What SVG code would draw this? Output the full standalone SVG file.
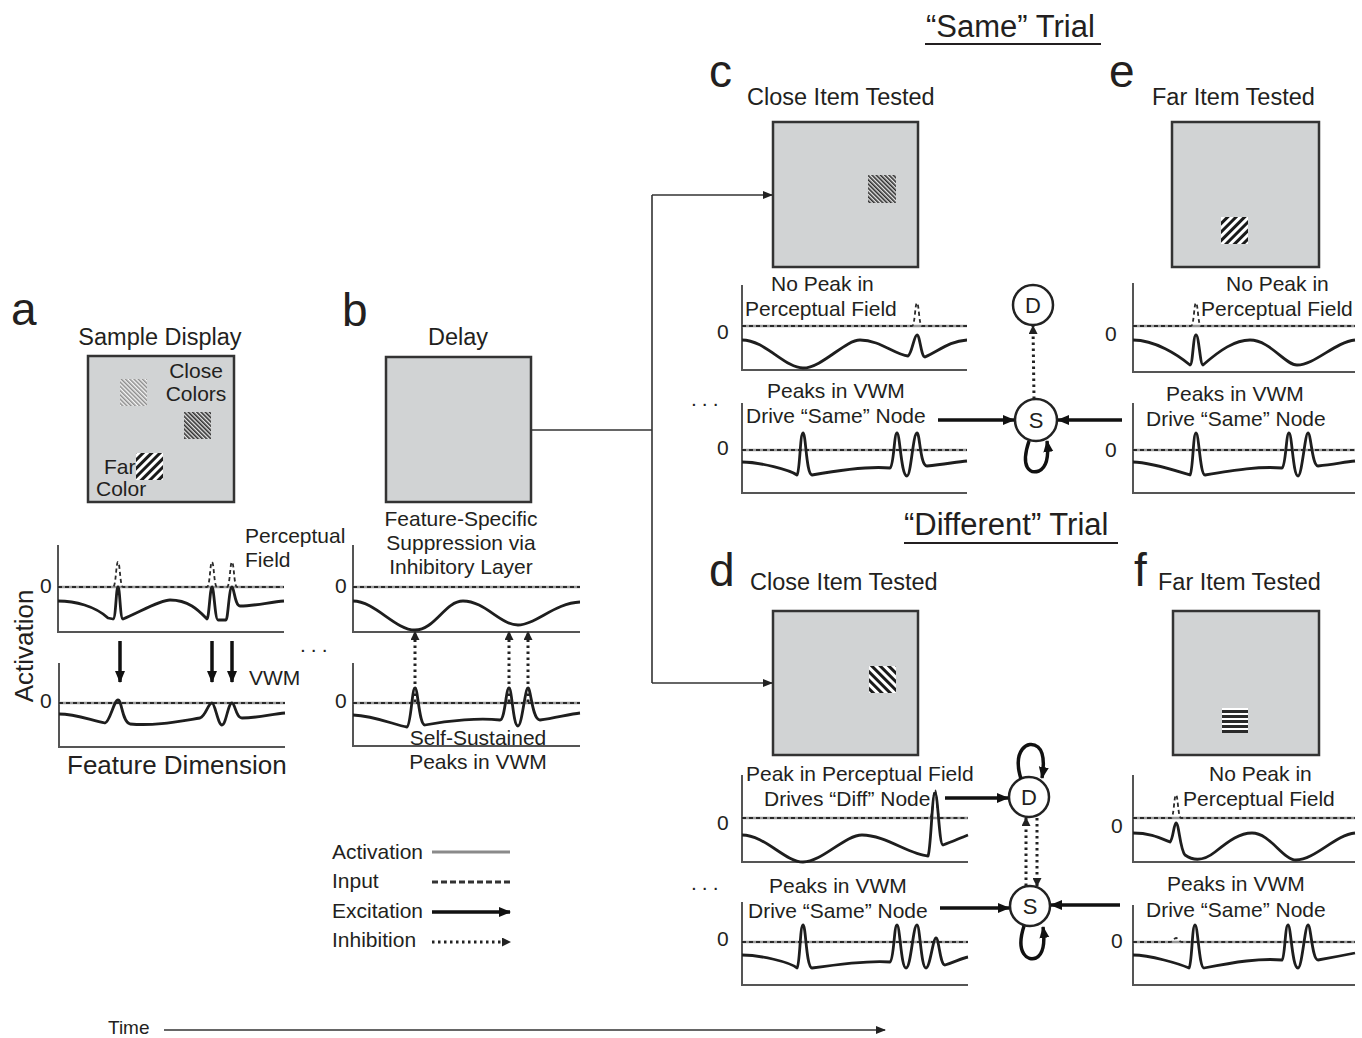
<svg xmlns="http://www.w3.org/2000/svg" width="1362" height="1038" viewBox="0 0 1362 1038">
<style>
text{font-family:"Liberation Sans",Arial,Helvetica,sans-serif;fill:#231f20}
.let{font-size:46px}
.ttl{font-size:23.5px}
.lab{font-size:21px}
.big{font-size:26px}
.trial{font-size:31px}
.box{fill:#d1d3d4;stroke:#333;stroke-width:2.5}
.axis{fill:none;stroke:#555;stroke-width:2}
.zero{fill:none;stroke:#9a9a9a;stroke-width:2.5}
.inp{fill:none;stroke:#2a2a2a;stroke-width:1.8;stroke-dasharray:4 3}
.act{fill:none;stroke:#1e1e1e;stroke-width:2.8;stroke-linejoin:round}
.exc{fill:none;stroke:#111;stroke-width:3.5}
.inh{fill:none;stroke:#222;stroke-width:3;stroke-dasharray:2.5 3.5}
.con{fill:none;stroke:#333;stroke-width:1.6}
.node{fill:#fff;stroke:#222;stroke-width:2.5}
.nt{font-size:22px;text-anchor:middle}
.mid{text-anchor:middle}
</style>
<defs>
<marker id="ah" viewBox="0 0 12 10" refX="11" refY="5" markerWidth="12" markerHeight="11" markerUnits="userSpaceOnUse" orient="auto"><path d="M0,0 L12,5 L0,10 z" fill="#111"/></marker>
<marker id="ahs" viewBox="0 0 10 8" refX="9" refY="4" markerWidth="10" markerHeight="8" markerUnits="userSpaceOnUse" orient="auto"><path d="M0,0 L10,4 L0,8 z" fill="#222"/></marker>
<marker id="ahd" viewBox="0 0 9 9" refX="8" refY="4.5" markerWidth="9" markerHeight="9" markerUnits="userSpaceOnUse" orient="auto"><path d="M0,0 L9,4.5 L0,9 z" fill="#222"/></marker>
<pattern id="fineL" width="3" height="3" patternUnits="userSpaceOnUse" patternTransform="rotate(-45)"><rect width="3" height="3" fill="#f4f4f4"/><rect width="1.5" height="3" fill="#8c8c8c"/></pattern>
<pattern id="fineD" width="3" height="3" patternUnits="userSpaceOnUse" patternTransform="rotate(-45)"><rect width="3" height="3" fill="#e8e8e8"/><rect width="1.6" height="3" fill="#2e2e2e"/></pattern>
<pattern id="wideF" width="6" height="6" patternUnits="userSpaceOnUse" patternTransform="rotate(45)"><rect width="6" height="6" fill="#fff"/><rect width="3" height="6" fill="#1a1a1a"/></pattern>
<pattern id="wideB" width="6" height="6" patternUnits="userSpaceOnUse" patternTransform="rotate(-45)"><rect width="6" height="6" fill="#fff"/><rect width="3" height="6" fill="#1a1a1a"/></pattern>
<pattern id="horiz" width="5" height="5" patternUnits="userSpaceOnUse"><rect width="5" height="5" fill="#fff"/><rect width="5" height="3" fill="#2a2a2a"/></pattern>
</defs>

<!-- Titles -->
<g id="titles">
<text class="trial" x="926" y="37">“Same” Trial</text>
<line x1="925" y1="44" x2="1101" y2="44" stroke="#231f20" stroke-width="2"/>
<text class="trial" x="904" y="535">“Different” Trial</text>
<line x1="904" y1="543" x2="1118" y2="543" stroke="#231f20" stroke-width="2"/>
</g>

<!-- Panel a -->
<g id="panel-a">
<text class="let" x="11" y="325">a</text>
<text class="ttl" x="160" y="345" text-anchor="middle">Sample Display</text>
<rect class="box" x="88" y="356" width="146" height="146"/>
<rect x="120" y="379" width="27" height="27" fill="url(#fineL)"/>
<rect x="184" y="412" width="27" height="27" fill="url(#fineD)"/>
<rect x="136" y="453" width="27" height="27" fill="url(#wideF)"/>
<text class="lab mid" x="196" y="378">Close</text>
<text class="lab mid" x="196" y="401">Colors</text>
<text class="lab" x="104" y="474">Far</text>
<text class="lab" x="96" y="496">Color</text>
<text class="big" transform="translate(33,646) rotate(-90)" text-anchor="middle">Activation</text>
<text class="big" x="67" y="774">Feature Dimension</text>
<text class="lab" x="245" y="543">Perceptual</text>
<text class="lab" x="245" y="567">Field</text>
<text class="lab" x="249" y="685">VWM</text>
<text class="lab" x="40" y="593">0</text>
<text class="lab" x="40" y="708">0</text>
<path class="axis" d="M58,545 V632 H284"/>
<line class="zero" x1="58" y1="587" x2="284" y2="587"/>
<path class="inp" d="M58,587 L113,587 C116,587 116,562 118,562 C120,562 120,587 123,587 L207,587 C210,587 210,562 212,562 C214,562 214,587 217,587 L227,587 C230,587 230,562 232,562 C234,562 234,587 237,587 L284,587"/>
<path class="act" d="M58,601 C75,601 95,606 108,618 L113,619 C116,619 116,587 118,587 C120,587 120,619 123,619 C140,612 160,600 170,600 C190,600 200,612 207,619 C209,619 210,587 212,587 C214,587 215,620 218,620 L226,620 C228,620 229,587 232,587 C234,587 235,606 240,606 C255,606 270,602 284,601"/>
<path class="axis" d="M59,663 V747 H285"/>
<line class="zero" x1="59" y1="703" x2="285" y2="703"/>
<path class="inp" d="M59,703 H285"/>
<path class="act" d="M59,714 C75,714 90,720 105,723 C110,722 114,700 118,700 C122,700 122,722 130,724 C155,726 175,722 200,718 C206,716 208,703 212,703 C215,703 218,725 222,725 C226,725 228,703 232,703 C235,703 236,718 242,718 C258,718 272,714 285,713"/>
<text class="lab" x="300" y="652" letter-spacing="5">...</text>
</g>

<!-- Panel b -->
<g id="panel-b">
<text class="let" x="342" y="326">b</text>
<text class="ttl mid" x="458" y="345">Delay</text>
<rect class="box" x="386" y="357" width="145" height="145"/>
<text class="lab mid" x="461" y="526">Feature-Specific</text>
<text class="lab mid" x="461" y="550">Suppression via</text>
<text class="lab mid" x="461" y="574">Inhibitory Layer</text>
<text class="lab mid" x="478" y="745">Self-Sustained</text>
<text class="lab mid" x="478" y="769">Peaks in VWM</text>
<text class="lab" x="335" y="593">0</text>
<text class="lab" x="335" y="708">0</text>
<path class="axis" d="M353,545 V632 H580"/>
<line class="zero" x1="353" y1="587" x2="580" y2="587"/>
<path class="inp" d="M353,587 H580"/>
<path class="act" d="M353,601 C375,601 395,630 415,630 C435,630 445,601 463,601 C485,601 500,625 518,625 C535,625 555,603 580,602"/>
<path class="axis" d="M353,663 V746 H580"/>
<line class="zero" x1="353" y1="703" x2="580" y2="703"/>
<path class="inp" d="M353,703 H580"/>
<path class="act" d="M353,715 C375,716 395,725 407,727 C411,725 412,688 415,688 C418,688 419,725 425,725 C450,720 480,718 500,720 C505,720 506,688 509,688 C512,688 513,726 518,726 C522,726 525,688 528,688 C531,688 532,720 540,720 C555,718 570,714 580,713"/>
</g>

<!-- Panel c -->
<g id="panel-c">
<text class="let" x="709" y="87">c</text>
<text class="ttl" x="747" y="105">Close Item Tested</text>
<rect class="box" x="773" y="122" width="145" height="145"/>
<rect x="868" y="175" width="28" height="28" fill="url(#fineD)"/>
<text class="lab" x="771" y="291">No Peak in</text>
<text class="lab" x="745" y="316">Perceptual Field</text>
<text class="lab" x="767" y="398">Peaks in VWM</text>
<text class="lab" x="746" y="423">Drive “Same” Node</text>
<text class="lab" x="717" y="339">0</text>
<text class="lab" x="717" y="455">0</text>
<path class="axis" d="M742,285 V370 H967"/>
<line class="zero" x1="742" y1="326" x2="967" y2="326"/>
<path class="inp" d="M742,326 L912,326 C915,326 915,303 917,303 C919,303 919,326 922,326 L967,326"/>
<path class="act" d="M742,340 C765,340 785,368 803,368 C822,368 845,340 860,340 C880,340 895,355 908,356 C912,354 914,335 917,335 C920,335 921,357 925,357 C940,350 950,341 967,340"/>
<path class="axis" d="M742,403 V493 H967"/>
<line class="zero" x1="742" y1="450" x2="967" y2="450"/>
<path class="inp" d="M742,450 H967"/>
<path class="act" d="M742,462 C760,462 790,470 797,475 C800,472 800,433 803,433 C806,433 806,474 812,475 C840,470 870,466 890,468 C894,466 894,433 897,433 C900,433 901,476 907,476 C911,476 913,433 917,433 C920,433 920,466 927,466 C945,464 957,462 967,461"/>
<text class="lab" x="691" y="406" letter-spacing="5">...</text>
</g>

<!-- Panel e -->
<g id="panel-e">
<text class="let" x="1109" y="87">e</text>
<text class="ttl" x="1152" y="105">Far Item Tested</text>
<rect class="box" x="1172" y="122" width="147" height="145"/>
<rect x="1221" y="217" width="27" height="27" fill="url(#wideF)"/>
<text class="lab" x="1226" y="291">No Peak in</text>
<text class="lab" x="1201" y="316">Perceptual Field</text>
<text class="lab" x="1166" y="401">Peaks in VWM</text>
<text class="lab" x="1146" y="426">Drive “Same” Node</text>
<text class="lab" x="1105" y="341">0</text>
<text class="lab" x="1105" y="457">0</text>
<path class="axis" d="M1133,283 V372 H1355"/>
<line class="zero" x1="1133" y1="326" x2="1355" y2="326"/>
<path class="inp" d="M1133,326 L1191,326 C1194,326 1194,303 1196,303 C1198,303 1198,326 1201,326 L1355,326"/>
<path class="act" d="M1133,340 C1155,340 1178,355 1190,365 C1193,365 1193,335 1196,335 C1199,335 1200,365 1203,365 C1220,350 1235,340 1250,340 C1270,340 1285,365 1297,365 C1315,365 1335,342 1355,340"/>
<path class="axis" d="M1133,403 V493 H1355"/>
<line class="zero" x1="1133" y1="450" x2="1355" y2="450"/>
<path class="inp" d="M1133,450 H1355"/>
<path class="act" d="M1133,462 C1150,462 1180,472 1190,475 C1193,472 1193,433 1196,433 C1199,433 1200,475 1205,475 C1235,470 1260,466 1282,468 C1286,466 1286,433 1289,433 C1292,433 1293,476 1298,476 C1302,476 1305,433 1308,433 C1311,433 1312,466 1318,466 C1335,464 1345,462 1355,461"/>
</g>

<!-- Panel d -->
<g id="panel-d">
<text class="let" x="709" y="586">d</text>
<text class="ttl" x="750" y="590">Close Item Tested</text>
<rect class="box" x="773" y="611" width="145" height="144"/>
<rect x="869" y="666" width="27" height="27" fill="url(#wideB)"/>
<text class="lab" x="746" y="781">Peak in Perceptual Field</text>
<text class="lab" x="764" y="806">Drives “Diff” Node</text>
<text class="lab" x="769" y="893">Peaks in VWM</text>
<text class="lab" x="748" y="918">Drive “Same” Node</text>
<text class="lab" x="717" y="830">0</text>
<text class="lab" x="717" y="946">0</text>
<path class="axis" d="M742,775 V862 H968"/>
<line class="zero" x1="742" y1="818" x2="968" y2="818"/>
<path class="inp" d="M742,818 L930,818 C933,818 933,790 935,790 C937,790 937,818 940,818 L968,818"/>
<path class="act" d="M742,835 C765,835 785,862 803,862 C822,862 845,835 862,835 C885,835 910,855 928,856 C931,850 932,793 935,793 C938,793 939,845 943,845 C952,842 960,838 968,835"/>
<path class="axis" d="M742,902 V985 H968"/>
<line class="zero" x1="742" y1="942" x2="968" y2="942"/>
<path class="inp" d="M742,942 H968"/>
<path class="act" d="M742,955 C760,955 790,962 797,968 C800,965 800,925 803,925 C806,925 806,967 812,968 C840,964 870,960 890,962 C894,960 894,925 897,925 C900,925 901,968 906,968 C911,968 913,925 917,925 C920,925 921,968 926,968 C930,968 933,938 936,938 C939,938 940,965 945,965 C955,962 962,958 968,957"/>
<text class="lab" x="691" y="890" letter-spacing="5">...</text>
</g>

<!-- Panel f -->
<g id="panel-f">
<text class="let" x="1134" y="586">f</text>
<text class="ttl" x="1158" y="590">Far Item Tested</text>
<rect class="box" x="1173" y="611" width="146" height="144"/>
<rect x="1222" y="708" width="26" height="25" fill="url(#horiz)"/>
<text class="lab" x="1209" y="781">No Peak in</text>
<text class="lab" x="1183" y="806">Perceptual Field</text>
<text class="lab" x="1167" y="891">Peaks in VWM</text>
<text class="lab" x="1146" y="917">Drive “Same” Node</text>
<text class="lab" x="1111" y="833">0</text>
<text class="lab" x="1111" y="948">0</text>
<path class="axis" d="M1133,775 V862 H1355"/>
<line class="zero" x1="1133" y1="818" x2="1355" y2="818"/>
<path class="inp" d="M1133,818 L1171,818 C1174,818 1174,795 1176,795 C1178,795 1178,818 1181,818 L1355,818"/>
<path class="act" d="M1133,833 C1150,833 1160,838 1170,842 C1173,840 1174,823 1176,823 C1179,823 1180,850 1185,855 C1195,862 1205,860 1215,852 C1230,840 1240,833 1252,833 C1270,833 1283,860 1296,860 C1315,860 1335,835 1355,833"/>
<path class="axis" d="M1133,905 V985 H1355"/>
<line class="zero" x1="1133" y1="942" x2="1355" y2="942"/>
<path class="inp" d="M1133,942 L1170,942 C1173,942 1174,938 1176,938 C1178,938 1179,942 1182,942 L1355,942"/>
<path class="act" d="M1133,955 C1150,955 1180,964 1189,968 C1192,965 1192,925 1195,925 C1198,925 1199,968 1204,968 C1235,962 1260,958 1282,960 C1285,958 1285,925 1288,925 C1291,925 1292,968 1298,968 C1302,968 1305,925 1308,925 C1311,925 1312,960 1318,960 C1335,957 1345,955 1355,953"/>
</g>

<!-- Decision nodes -->
<g id="node-c-D"><circle class="node" cx="1033" cy="305" r="20"/><text class="nt" x="1033" y="313">D</text></g>
<g id="node-c-S"><circle class="node" cx="1036" cy="420" r="21"/><text class="nt" x="1036" y="428">S</text></g>
<g id="node-d-D"><circle class="node" cx="1029" cy="797" r="20"/><text class="nt" x="1029" y="805">D</text></g>
<g id="node-d-S"><circle class="node" cx="1030" cy="906" r="20"/><text class="nt" x="1030" y="914">S</text></g>

<!-- Legend -->
<g id="legend">
<text class="lab" x="332" y="859">Activation</text>
<text class="lab" x="332" y="888">Input</text>
<text class="lab" x="332" y="918">Excitation</text>
<text class="lab" x="332" y="947">Inhibition</text>
<line x1="432" y1="852" x2="510" y2="852" stroke="#8a8a8a" stroke-width="3"/>
<line x1="432" y1="882" x2="510" y2="882" stroke="#333" stroke-width="3" stroke-dasharray="6 3"/>
<line class="exc" x1="432" y1="912" x2="510" y2="912" stroke-width="3" marker-end="url(#ah)"/>
<line class="inh" x1="432" y1="942" x2="510" y2="942" stroke-width="2.5" marker-end="url(#ahd)"/>
</g>

<!-- Time -->
<g id="time">
<text x="108" y="1034" font-size="19">Time</text>
<line x1="164" y1="1030" x2="885" y2="1030" stroke="#333" stroke-width="1.6" marker-end="url(#ahs)"/>
</g>

<!-- Connectors -->
<g id="connectors">
<path class="con" d="M531,430 H652"/>
<path class="con" d="M652,195 V683"/>
<path class="con" d="M652,195 H772" marker-end="url(#ahs)"/>
<path class="con" d="M652,683 H772" marker-end="url(#ahs)"/>
<line class="exc" x1="120" y1="641" x2="120" y2="682" marker-end="url(#ah)"/>
<line class="exc" x1="212" y1="641" x2="212" y2="682" marker-end="url(#ah)"/>
<line class="exc" x1="232" y1="641" x2="232" y2="682" marker-end="url(#ah)"/>
<line class="inh" x1="415" y1="702" x2="415" y2="632" marker-end="url(#ahd)"/>
<line class="inh" x1="509" y1="702" x2="509" y2="632" marker-end="url(#ahd)"/>
<line class="inh" x1="528" y1="702" x2="528" y2="632" marker-end="url(#ahd)"/>
<line class="exc" x1="938" y1="420" x2="1014" y2="420" marker-end="url(#ah)"/>
<line class="exc" x1="1122" y1="420" x2="1058" y2="420" marker-end="url(#ah)"/>
<line class="inh" x1="1034" y1="399" x2="1033" y2="326" marker-end="url(#ahd)"/>
<path class="exc" stroke-width="2.5" d="M1029,441 C1020,468 1030,474 1039,471 C1047,467 1049,457 1047,441" marker-end="url(#ah)"/>
<line class="exc" x1="945" y1="798" x2="1008" y2="798" marker-end="url(#ah)"/>
<line class="exc" x1="940" y1="908" x2="1009" y2="908" marker-end="url(#ah)"/>
<line class="exc" x1="1120" y1="905" x2="1051" y2="905" marker-end="url(#ah)"/>
<line class="inh" x1="1026" y1="886" x2="1026" y2="818" marker-end="url(#ahd)"/>
<line class="inh" x1="1037" y1="818" x2="1037" y2="886" marker-end="url(#ahd)"/>
<path class="exc" stroke-width="2.5" d="M1021,779 C1012,750 1028,739 1038,747 C1045,753 1044,766 1042,778" marker-end="url(#ah)"/>
<path class="exc" stroke-width="2.5" d="M1024,926 C1015,954 1028,961 1036,958 C1044,954 1045,942 1043,927" marker-end="url(#ah)"/>
</g>
</svg>
